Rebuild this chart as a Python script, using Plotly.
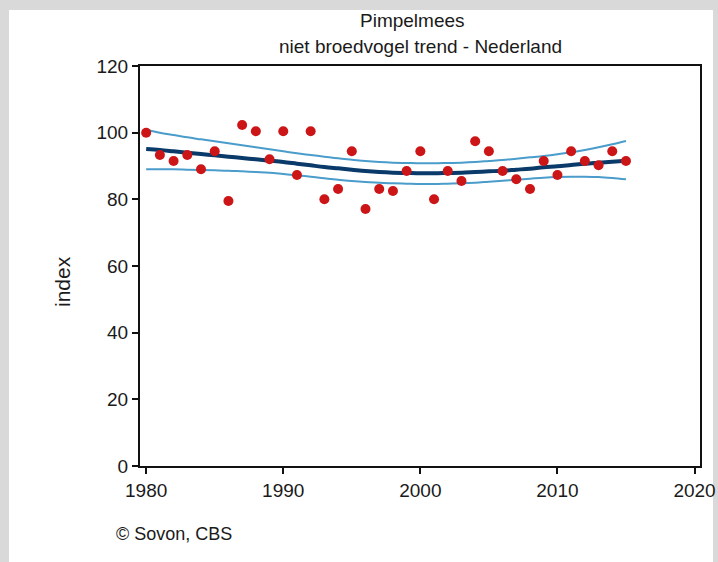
import plotly.graph_objects as go

years = list(range(1980, 2016))
index_values = [100, 93.3, 91.5, 93.3, 89, 94.4, 79.5, 102.3, 100.4, 92, 100.4, 87.3, 100.4, 80,
                83.1, 94.4, 77.1, 83.1, 82.5, 88.5, 94.4, 80, 88.5, 85.5, 97.4, 94.4, 88.5, 86,
                83.1, 91.5, 87.3, 94.4, 91.5, 90.2, 94.4, 91.5]
trend = [95.1, 94.8, 94.4, 94.0, 93.6, 93.2, 92.8, 92.4, 92.0, 91.6, 91.2, 90.7, 90.2, 89.7,
         89.3, 88.9, 88.5, 88.2, 88.0, 87.9, 87.8, 87.8, 87.9, 88.0, 88.2, 88.4, 88.6, 88.9,
         89.2, 89.6, 89.9, 90.3, 90.7, 91.0, 91.3, 91.6]
upper = [100.8, 100.0, 99.3, 98.6, 98.0, 97.4, 96.8, 96.2, 95.6, 95.0, 94.4, 93.8, 93.3, 92.8,
         92.3, 91.9, 91.5, 91.2, 91.0, 90.9, 90.8, 90.8, 90.9, 91.0, 91.2, 91.5, 91.8, 92.2,
         92.6, 93.0, 93.5, 94.1, 94.8, 95.6, 96.5, 97.5]
lower = [89.0, 89.0, 89.0, 88.9, 88.8, 88.7, 88.6, 88.4, 88.2, 88.0, 87.6, 87.2, 86.8, 86.3,
         85.9, 85.5, 85.2, 85.0, 84.8, 84.7, 84.6, 84.6, 84.7, 84.8, 85.0, 85.3, 85.6, 85.9,
         86.2, 86.5, 86.7, 86.8, 86.8, 86.7, 86.4, 86.0]
x_ticks = [1980, 1990, 2000, 2010, 2020]
y_ticks = [0, 20, 40, 60, 80, 100, 120]

FONT = "Liberation Sans, Arial, sans-serif"
TXT = "#1a1a1a"

fig = go.Figure()
fig.add_trace(go.Scatter(x=years, y=upper, mode="lines", line=dict(color="#4a9ccb", width=2, shape="spline"),
                         hoverinfo="skip"))
fig.add_trace(go.Scatter(x=years, y=lower, mode="lines", line=dict(color="#4a9ccb", width=2, shape="spline"),
                         hoverinfo="skip"))
fig.add_trace(go.Scatter(x=years, y=trend, mode="lines", line=dict(color="#0a3a6a", width=4, shape="spline")))
fig.add_trace(go.Scatter(x=years, y=index_values, mode="markers",
                         marker=dict(color="#cc1517", size=10, line=dict(width=0))))

axis_common = dict(showline=True, linecolor="#111", linewidth=2, mirror=True, ticks="outside",
                   ticklen=6, tickwidth=2, tickcolor="#111", showgrid=False, zeroline=False,
                   automargin=False, tickfont=dict(family=FONT, size=19, color=TXT))

fig.update_xaxes(range=[1979.55, 2020.4], tickvals=x_ticks, ticktext=[str(v) for v in x_ticks], **axis_common)
fig.update_yaxes(range=[0, 120], tickvals=y_ticks, ticktext=[str(v) for v in y_ticks], **axis_common)

fig.update_layout(
    width=718, height=562,
    margin=dict(l=140, r=18, t=66, b=96),
    paper_bgcolor="#d9d9d9",
    plot_bgcolor="white",
    showlegend=False,
    shapes=[dict(type="rect", xref="paper", yref="paper", x0=-131/560, x1=573/560,
                 y0=-96/400, y1=(466 - 10) / 400, fillcolor="white", line=dict(width=0), layer="below")],
    annotations=[
        dict(text="Pimpelmees", xref="paper", yref="paper", x=(412 - 140) / 560, y=(466 - 21) / 400,
             showarrow=False, xanchor="center", yanchor="middle", font=dict(family=FONT, size=19, color=TXT)),
        dict(text="niet broedvogel trend - Nederland", xref="paper", yref="paper", x=(420 - 140) / 560,
             y=(466 - 47) / 400, showarrow=False, xanchor="center", yanchor="middle",
             font=dict(family=FONT, size=19, color=TXT)),
        dict(text="index", xref="paper", yref="paper", x=(62 - 140) / 560, y=(466 - 282) / 400,
             showarrow=False, textangle=-90, xanchor="center", yanchor="middle",
             font=dict(family=FONT, size=21, color=TXT)),
        dict(text="© Sovon, CBS", xref="paper", yref="paper", x=(114 - 140) / 560, y=(466 - 534) / 400,
             showarrow=False, xanchor="left", yanchor="middle", font=dict(family=FONT, size=18, color=TXT)),
    ],
)

fig.write_html("out.html", config={"displayModeBar": False},
               post_script="document.body.style.margin='0';document.body.style.overflow='hidden';"
                           "document.body.style.background='#d9d9d9';")
